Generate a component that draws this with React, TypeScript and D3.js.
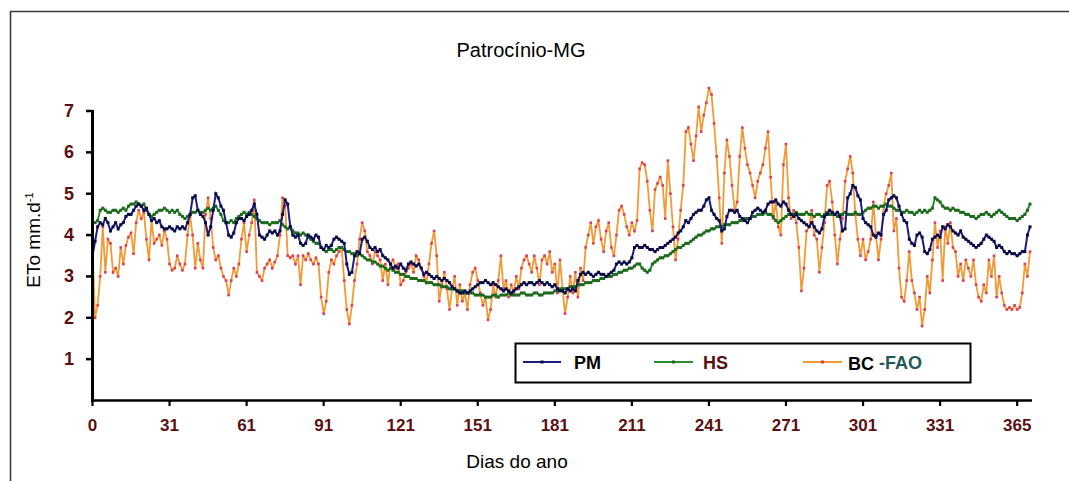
import React from "react";
import * as d3 from "d3";

// Daily ETo (mm/d), day index 0..365
const pmValues = [
  3.5, 3.85, 4.2, 4.3, 4.25, 4.4, 4.3, 4.1, 4.2, 4.3,
  4.15, 4.25, 4.3, 4.45, 4.5, 4.5, 4.6, 4.7, 4.75, 4.7,
  4.6, 4.65, 4.5, 4.35, 4.4, 4.3, 4.35, 4.2, 4.15, 4.15,
  4.2, 4.15, 4.1, 4.2, 4.15, 4.2, 4.15, 4.3, 4.5, 4.9,
  4.95, 4.6, 4.5, 4.45, 4.3, 4.0, 4.2, 4.6, 5.0, 4.9,
  4.7, 4.6, 4.3, 4.0, 3.95, 4.05, 4.3, 4.4, 4.4, 4.35,
  4.45, 4.5, 4.6, 4.75, 4.5, 4.0, 3.95, 3.9, 4.0, 4.1,
  4.05, 4.1, 4.0, 4.1, 4.5, 4.85, 4.75, 4.2, 4.0, 3.95,
  4.0, 3.8, 3.75, 3.8, 4.0, 3.95, 3.9, 4.0, 3.95, 3.7,
  3.65, 3.75, 3.7, 3.75, 3.9, 3.95, 3.9, 3.85, 3.8, 3.3,
  3.05, 3.1, 3.5, 3.6, 3.55, 3.9, 3.95, 3.85, 3.7, 3.65,
  3.7, 3.6, 3.65, 3.5, 3.45, 3.4, 3.3, 3.2, 3.25, 3.2,
  3.3, 3.2, 3.15, 3.3, 3.35, 3.3, 3.25, 3.3, 3.2, 3.05,
  3.1, 3.05, 3.0, 2.95, 3.0, 2.95, 2.9, 2.95, 2.9, 2.85,
  2.75, 2.7, 2.65, 2.6, 2.6, 2.65, 2.6, 2.65, 2.7, 2.75,
  2.8, 2.85, 2.85, 2.9, 2.85, 2.8, 2.85, 2.8, 2.75, 2.7,
  2.65, 2.7, 2.65, 2.6, 2.65, 2.7, 2.75, 2.8, 2.85, 2.8,
  2.85, 2.85, 2.8, 2.85, 2.9, 2.85, 2.8, 2.85, 2.8, 2.75,
  2.8, 2.7, 2.65, 2.65, 2.6, 2.7, 2.65, 2.7, 2.65, 2.9,
  3.05, 3.1, 3.05, 3.1, 3.05, 3.0, 3.05, 3.1, 3.05, 3.05,
  3.0, 3.05, 3.1, 3.15, 3.3, 3.35, 3.3, 3.35, 3.3, 3.35,
  3.45, 3.7, 3.75, 3.7, 3.7, 3.75, 3.7, 3.65, 3.65, 3.6,
  3.65, 3.7, 3.7, 3.75, 3.8, 3.85, 3.9, 3.95, 4.05, 4.1,
  4.2, 4.35, 4.3, 4.4, 4.5, 4.55, 4.6, 4.6, 4.7, 4.85,
  4.9, 4.6, 4.5, 4.4, 4.35, 4.1, 4.15, 4.45, 4.6, 4.6,
  4.55, 4.6, 4.45, 4.4, 4.35, 4.3, 4.4, 4.55, 4.6, 4.65,
  4.6, 4.55, 4.6, 4.75, 4.8, 4.8, 4.85, 4.75, 4.7, 4.8,
  4.75, 4.6, 4.5, 4.45, 4.5, 4.4, 4.35, 4.3, 4.25, 4.2,
  4.3, 4.2, 4.1, 4.05, 4.15, 4.45, 4.5, 4.6, 4.55, 4.5,
  4.55, 4.45, 4.1, 4.15, 4.9, 5.0, 5.2, 5.15, 4.95, 4.85,
  4.4, 4.3, 4.25, 4.2, 4.0, 3.95, 4.05, 4.0, 4.5, 4.6,
  4.85, 4.9, 4.95, 4.9, 4.7, 4.5, 4.35, 4.3, 3.9, 3.8,
  3.75, 4.0, 4.05, 3.95, 3.6, 3.55, 3.65, 3.9, 3.95, 4.0,
  3.95, 4.2, 4.15, 4.25, 4.2, 4.1, 4.05, 4.0, 4.1, 3.95,
  3.9, 3.85, 3.8, 3.75, 3.7, 3.75, 3.8, 3.9, 4.0, 3.95,
  3.9, 3.85, 3.7, 3.75, 3.7, 3.6, 3.55, 3.6, 3.55, 3.55,
  3.5, 3.55, 3.6, 3.6, 4.0, 4.2,
];

const hsValues = [
  4.3, 4.3, 4.35, 4.6, 4.65, 4.6, 4.55, 4.55, 4.6, 4.6,
  4.55, 4.6, 4.65, 4.6, 4.7, 4.75, 4.75, 4.8, 4.75, 4.7,
  4.75, 4.6, 4.5, 4.45, 4.5, 4.55, 4.6, 4.6, 4.65, 4.6,
  4.55, 4.6, 4.55, 4.6, 4.5, 4.45, 4.4, 4.45, 4.5, 4.55,
  4.55, 4.6, 4.55, 4.55, 4.6, 4.65, 4.6, 4.65, 4.7, 4.6,
  4.5, 4.35, 4.3, 4.3, 4.35, 4.3, 4.4, 4.45, 4.5, 4.55,
  4.5, 4.55, 4.5, 4.45, 4.4, 4.35, 4.3, 4.3, 4.3, 4.25,
  4.3, 4.3, 4.3, 4.35, 4.25, 4.2, 4.15, 4.2, 4.1, 4.05,
  4.05, 4.0, 4.05, 4.0, 3.95, 3.9, 3.85, 3.8, 3.8, 3.7,
  3.65, 3.6, 3.65, 3.65, 3.6, 3.65, 3.7, 3.7, 3.65, 3.6,
  3.6, 3.55, 3.55, 3.5, 3.55, 3.5, 3.45, 3.4, 3.4, 3.35,
  3.35, 3.3, 3.25, 3.25, 3.2, 3.15, 3.2, 3.15, 3.1, 3.1,
  3.05, 3.05, 3.0, 3.0, 2.95, 2.95, 2.95, 2.9, 2.9, 2.9,
  2.85, 2.85, 2.85, 2.8, 2.8, 2.8, 2.75, 2.75, 2.75, 2.7,
  2.7, 2.7, 2.65, 2.65, 2.65, 2.6, 2.6, 2.6, 2.6, 2.55,
  2.55, 2.55, 2.55, 2.5, 2.5, 2.5, 2.55, 2.55, 2.5, 2.55,
  2.55, 2.55, 2.6, 2.55, 2.55, 2.55, 2.55, 2.6, 2.6, 2.55,
  2.55, 2.55, 2.6, 2.6, 2.55, 2.55, 2.6, 2.6, 2.6, 2.6,
  2.65, 2.65, 2.7, 2.7, 2.7, 2.7, 2.75, 2.75, 2.75, 2.8,
  2.8, 2.8, 2.85, 2.85, 2.85, 2.9, 2.9, 2.9, 2.95, 2.95,
  3.0, 3.0, 3.0, 3.05, 3.05, 3.1, 3.1, 3.15, 3.15, 3.2,
  3.2, 3.25, 3.3, 3.3, 3.2, 3.15, 3.1, 3.15, 3.3, 3.35,
  3.4, 3.45, 3.45, 3.5, 3.5, 3.55, 3.6, 3.65, 3.7, 3.7,
  3.75, 3.8, 3.8, 3.85, 3.9, 3.95, 4.0, 4.0, 4.05, 4.1,
  4.1, 4.15, 4.15, 4.2, 4.2, 4.2, 4.25, 4.25, 4.25, 4.3,
  4.3, 4.3, 4.35, 4.35, 4.4, 4.4, 4.4, 4.45, 4.45, 4.5,
  4.5, 4.5, 4.55, 4.5, 4.5, 4.45, 4.35, 4.3, 4.35, 4.4,
  4.45, 4.5, 4.5, 4.5, 4.55, 4.5, 4.5, 4.5, 4.55, 4.5,
  4.5, 4.45, 4.5, 4.5, 4.45, 4.5, 4.55, 4.5, 4.5, 4.5,
  4.45, 4.5, 4.5, 4.55, 4.5, 4.5, 4.5, 4.55, 4.5, 4.5,
  4.55, 4.6, 4.65, 4.65, 4.7, 4.7, 4.65, 4.7, 4.7, 4.75,
  4.7, 4.7, 4.65, 4.6, 4.6, 4.55, 4.55, 4.6, 4.55, 4.55,
  4.5, 4.55, 4.6, 4.55, 4.6, 4.55, 4.6, 4.65, 4.9, 4.85,
  4.8, 4.7, 4.65, 4.65, 4.6, 4.65, 4.6, 4.6, 4.55, 4.55,
  4.5, 4.5, 4.45, 4.45, 4.4, 4.45, 4.5, 4.5, 4.55, 4.5,
  4.45, 4.5, 4.55, 4.6, 4.55, 4.5, 4.45, 4.4, 4.4, 4.4,
  4.35, 4.4, 4.45, 4.5, 4.6, 4.75,
];

const bcValues = [
  3.7, 2.0, 2.3, 3.0, 4.2, 3.1, 3.9, 3.8, 3.1, 3.2,
  3.0, 3.7, 3.3, 3.75, 3.95, 4.05, 3.55, 4.3, 4.6, 4.4,
  4.55, 3.9, 3.4, 4.35, 3.8, 3.9, 4.0, 3.75, 4.1, 3.9,
  3.3, 3.15, 3.2, 3.5, 3.3, 3.15, 3.3, 4.0, 4.45, 4.0,
  3.2, 3.8, 3.4, 3.2, 4.5, 4.9, 4.4, 3.7, 3.4, 3.5,
  3.2, 3.0, 2.9, 2.55, 2.9, 3.2, 3.0, 3.3, 3.9, 4.3,
  3.6, 4.0, 4.3, 4.85, 3.1, 3.0, 2.9, 3.2, 3.3, 3.4,
  3.2, 3.35, 3.5, 4.0, 4.9, 4.7, 3.5, 3.45, 3.5, 3.3,
  3.5, 2.8, 3.5, 3.4, 3.55, 3.4, 3.3, 3.45, 3.3, 2.5,
  2.1, 2.4, 3.1, 3.4, 3.3, 3.5, 3.6, 3.7, 2.9, 2.2,
  1.85, 2.3, 2.9, 3.3, 3.9, 4.3, 4.1, 3.6, 3.5, 3.3,
  3.6, 3.5, 3.4, 2.9, 3.3, 2.8, 3.3, 3.4, 3.2, 3.3,
  2.8, 2.9, 3.1, 3.2, 3.3, 3.1, 3.5, 3.4, 3.2, 3.0,
  2.85, 3.3, 3.8, 4.1, 3.5, 2.4, 2.8, 3.1, 2.7, 2.2,
  2.7, 3.0, 2.3, 2.8, 2.4, 2.6, 2.2, 2.8, 3.1, 3.2,
  2.9, 2.6, 2.3, 2.5, 1.95, 2.2, 2.8, 2.5, 2.9, 3.5,
  2.7, 2.9, 2.5, 2.8, 2.6, 3.0, 2.7, 3.2, 3.4, 3.5,
  3.3, 3.1, 3.5, 3.2, 2.8, 3.4, 3.5, 3.3, 3.6, 3.1,
  3.3, 2.6, 3.4, 2.7, 2.1, 2.5, 3.0, 2.6, 3.1, 2.5,
  3.2, 2.9, 3.7, 4.0, 4.3, 3.8, 4.2, 4.35, 3.9, 3.6,
  4.1, 4.3, 3.7, 3.5, 4.0, 4.6, 4.7, 4.5, 4.2, 4.0,
  4.3, 4.1, 4.35, 5.6, 5.75, 5.7, 5.3, 4.6, 4.1, 5.1,
  5.25, 5.4, 5.2, 4.4, 5.8, 5.0, 4.2, 3.4, 3.9, 4.6,
  5.2, 6.5, 6.6, 6.2, 5.8, 6.4, 7.1, 6.5, 6.9, 7.2,
  7.55, 7.4, 6.7, 5.9, 4.9, 3.8, 5.5, 6.3, 5.9, 5.2,
  4.6, 4.8, 5.9, 6.6, 6.1, 5.7, 5.5, 5.2, 4.9, 5.3,
  5.5, 5.7, 6.1, 6.5, 5.4, 4.4, 4.8, 4.2, 4.0, 5.7,
  6.2, 4.9, 4.4, 4.6, 4.3, 3.7, 2.65, 3.2, 4.1, 4.2,
  4.6, 4.0, 3.9, 3.1, 3.7, 4.3, 5.2, 5.3, 4.8, 4.0,
  3.3, 3.9, 4.4, 5.3, 5.6, 5.9, 5.5, 4.5, 3.9, 3.5,
  3.9, 3.4, 3.6, 3.9, 4.8, 4.0, 3.4, 3.9, 4.7, 5.0,
  5.2, 5.5, 4.1, 4.4, 3.2, 2.5, 2.4, 2.9, 3.6, 2.9,
  2.6, 2.2, 2.5, 1.8, 2.2, 3.0, 2.6, 3.4, 4.3, 3.7,
  4.1, 2.9, 4.2, 3.8, 4.3, 3.7, 3.6, 3.0, 3.3, 2.9,
  3.4, 3.2, 3.0, 3.4, 2.8, 2.5, 2.4, 2.8, 2.6, 3.4,
  3.0, 3.5, 2.5, 3.0, 2.6, 2.3, 2.2, 2.25, 2.2, 2.3,
  2.2, 2.25, 2.6, 3.3, 3.0, 3.6,
];

const xTickIndex = [0, 30, 60, 90, 120, 150, 180, 210, 240, 270, 300, 330, 360];
const xTickLabels = ["0", "31", "61", "91", "121", "151", "181", "211", "241", "271", "301", "331", "365"];
const yTicks = [1, 2, 3, 4, 5, 6, 7];

const seriesNames = ["PM", "HS", "BC"];

const FONT = "'Liberation Sans', Arial, Helvetica, sans-serif";
const TICK_COLOR = "#5a1010";

export default function App() {
  const x = d3.scaleLinear().domain([0, 365]).range([92.5, 1030]);
  const y = d3.scaleLinear().domain([0, 7]).range([400.5, 111]);

  const line = d3
    .line<number>()
    .x((_, i) => x(i))
    .y((d) => y(d));

  const series = [
    { name: seriesNames[2], data: bcValues, stroke: "#f39a36", marker: "#e03c50", ms: 2.6, sw: 1.8 },
    { name: seriesNames[1], data: hsValues, stroke: "#2c8c2c", marker: "#1d6a1d", ms: 3, sw: 2 },
    { name: seriesNames[0], data: pmValues, stroke: "#1c1c80", marker: "#0c0c44", ms: 3, sw: 2 },
  ];

  return (
    <svg width={1069} height={481} style={{ position: "absolute", left: 0, top: 0, background: "#fff" }}>
      <rect x={0} y={0} width={1069} height={481} fill="#fff" />
      {/* outer frame */}
      <path d="M10.5,490 L10.5,11.5 L1075,11.5" fill="none" stroke="#3a3a3a" strokeWidth={1.6} />

      {/* title */}
      <text x={521} y={57} textAnchor="middle" fontFamily={FONT} fontSize={20} fill="#000">
        Patrocínio-MG
      </text>

      {/* series */}
      {series.map((s) => (
        <g key={s.name}>
          <path d={line(s.data) || ""} fill="none" stroke={s.stroke} strokeWidth={s.sw} />
          {s.data.map((d, i) => (
            <rect
              key={i}
              x={x(i) - s.ms / 2}
              y={y(d) - s.ms / 2}
              width={s.ms}
              height={s.ms}
              fill={s.marker}
            />
          ))}
        </g>
      ))}

      {/* y axis */}
      <line x1={92.5} x2={92.5} y1={110} y2={402} stroke="#000" strokeWidth={3} />
      {yTicks.map((t) => (
        <g key={t}>
          <line x1={86} x2={92.5} y1={y(t)} y2={y(t)} stroke="#000" strokeWidth={2.5} />
          <text
            x={74}
            y={y(t) + 6}
            textAnchor="end"
            fontFamily={FONT}
            fontWeight="bold"
            fontSize={18}
            fill={TICK_COLOR}
          >
            {t}
          </text>
        </g>
      ))}

      {/* x axis */}
      <line x1={91} x2={1032} y1={400.5} y2={400.5} stroke="#000" strokeWidth={2.6} />
      {xTickIndex.map((t, i) => (
        <g key={t}>
          <line x1={x(t)} x2={x(t)} y1={400.5} y2={406} stroke="#000" strokeWidth={2.2} />
          <text
            x={x(t)}
            y={431}
            textAnchor="middle"
            fontFamily={FONT}
            fontWeight="bold"
            fontSize={17}
            fill={TICK_COLOR}
          >
            {xTickLabels[i]}
          </text>
        </g>
      ))}

      {/* axis titles */}
      <text x={517} y={468} textAnchor="middle" fontFamily={FONT} fontSize={19} fill="#000">
        Dias do ano
      </text>
      <text
        transform="translate(40,240) rotate(-90)"
        textAnchor="middle"
        fontFamily={FONT}
        fontSize={19}
        fill="#000"
      >
        ETo mm.d
        <tspan dy={-7} fontSize={11}>-1</tspan>
      </text>

      {/* legend */}
      <rect x={515.5} y={343.5} width={455} height={39} fill="#fff" stroke="#000" strokeWidth={2} />
      <line x1={523} x2={561} y1={362} y2={362} stroke="#1c1c80" strokeWidth={2} />
      <rect x={540.5} y={360.5} width={3} height={3} fill="#0c0c44" />
      <text x={574} y={369} fontFamily={FONT} fontWeight="bold" fontSize={18} fill="#000">
        PM
      </text>
      <line x1={654} x2={693} y1={362} y2={362} stroke="#2c8c2c" strokeWidth={2} />
      <rect x={672} y={360.5} width={3} height={3} fill="#1d6a1d" />
      <text x={703} y={369} fontFamily={FONT} fontWeight="bold" fontSize={18} fill={TICK_COLOR}>
        HS
      </text>
      <line x1={803} x2={842} y1={362} y2={362} stroke="#f39a36" strokeWidth={2} />
      <rect x={821} y={360.5} width={3} height={3} fill="#e03c50" />
      <text x={848} y={370} fontFamily={FONT} fontWeight="bold" fontSize={18} fill="#000">
        BC
      </text>
      <text x={879} y={369} fontFamily={FONT} fontWeight="bold" fontSize={18} fill="#1f5a5a">
        -FAO
      </text>
    </svg>
  );
}
